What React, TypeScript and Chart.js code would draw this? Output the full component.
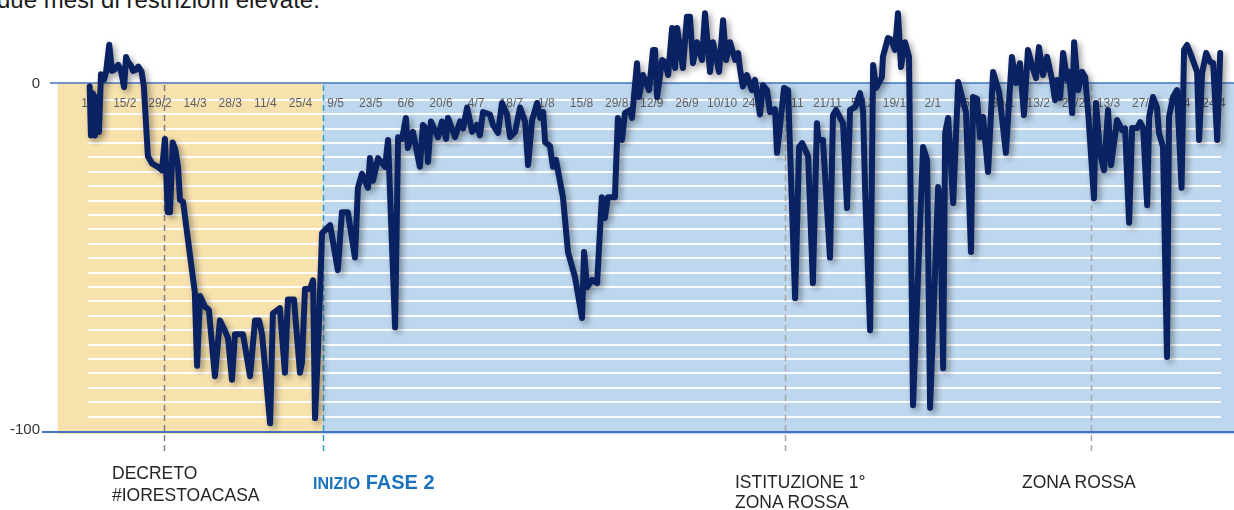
import React, { useEffect, useRef } from "react";
import { Chart, registerables } from "chart.js";

Chart.register(...registerables);

// x-axis tick labels, one every 14 days starting 1/2/2020
const tickLabels = [
  "1/2", "15/2", "29/2", "14/3", "28/3", "11/4", "25/4", "9/5", "23/5", "6/6", "20/6",
  "4/7", "18/7", "1/8", "15/8", "29/8", "12/9", "26/9", "10/10", "24/10", "7/11",
  "21/11", "5/12", "19/12", "2/1", "16/1", "30/1", "13/2", "27/2", "13/3", "27/3",
  "10/4", "24/4",
];
const tickStepDays = 14;
const yTickValues = [0, -100];

// day offset from 1/2/2020
const days = [
  0, 0.5, 1.3, 2.1, 2.9, 3.7, 4.5, 5.7, 6.5, 7.8, 8.9, 10.1, 11.4, 12.5, 13.7, 14.5, 15.3, 16.3,
  17.3, 18.1, 19.4, 20.7, 21.6, 23.2, 24.8, 27.2, 28.8, 30.0, 31.1, 32.0, 33.1, 34.1, 35.2, 36.0,
  37.2, 39.2, 41.9, 42.8, 44.0, 45.9, 47.5, 49.9, 51.9, 53.9, 55.1, 56.7, 57.9, 61.1, 63.9, 65.9,
  67.5, 68.7, 71.9, 73.0, 75.8, 77.8, 79.0, 81.4, 83.8, 84.6, 85.8, 87.8, 89.0, 89.8, 91.0, 92.6,
  95.8, 98.9, 100.5, 102.9, 105.7, 106.9, 108.5, 110.9, 111.7, 112.9, 114.9, 117.7, 118.9, 121.7,
  122.9, 124.5, 126.0, 126.8, 128.8, 131.6, 132.8, 134.0, 134.8, 136.0, 138.8, 140.4, 142.0, 142.8,
  145.6, 147.6, 148.8, 150.4, 152.4, 154.3, 155.5, 156.7, 159.5, 160.7, 162.7, 164.3, 166.3, 167.5,
  169.5, 171.5, 173.5, 174.7, 176.3, 178.3, 179.5, 180.7, 181.5, 183.4, 184.6, 185.8, 188.6, 190.6,
  193.4, 196.2, 197.0, 198.2, 200.2, 202.2, 204.1, 205.3, 206.5, 209.3, 210.5, 212.1, 213.3, 215.3,
  216.1, 218.1, 218.9, 220.5, 222.9, 224.5, 225.3, 226.1, 228.1, 229.3, 230.5, 232.1, 233.3, 234.1,
  236.4, 238.0, 239.2, 240.4, 242.0, 244.0, 245.2, 247.2, 248.4, 250.8, 252.4, 253.6, 255.2, 257.2,
  258.4, 259.1, 260.3, 261.9, 263.9, 265.1, 267.1, 268.3, 269.9, 271.1, 273.1, 273.9, 275.9, 276.7,
  278.3, 281.1, 282.7, 283.9, 286.3, 288.2, 289.8, 290.4, 292.2, 295.0, 296.2, 297.4, 300.2, 301.8,
  303.0, 305.0, 307.0, 308.2, 309.0, 311.0, 312.2, 313.4, 315.7, 316.1, 318.1, 319.3, 320.9, 322.1,
  323.3, 324.9, 326.5, 328.1, 332.1, 333.7, 334.9, 338.1, 338.9, 340.1, 340.9, 342.1, 344.1, 346.1,
  347.6, 349.2, 351.2, 352.0, 353.6, 354.8, 356.0, 358.0, 360.0, 362.4, 365.1, 367.5, 369.1, 370.7,
  372.3, 373.9, 375.5, 377.1, 378.3, 379.9, 381.5, 383.5, 384.7, 385.5, 386.7, 387.9, 389.5, 390.3,
  391.5, 392.3, 393.9, 395.5, 396.7, 397.9, 400.2, 401.0, 402.6, 404.2, 405.8, 407.0, 409.4, 411.4,
  412.6, 414.2, 415.4, 417.4, 418.6, 419.8, 421.4, 422.2, 423.7, 425.3, 426.1, 427.7, 429.3, 430.1,
  431.7, 433.3, 435.1, 436.1, 437.3, 439.3, 441.3, 442.1, 443.3, 444.9, 446.5, 447.7, 449.3, 450.5,
];

const values = [
  -1, -15, -3, -15, -4, -14, 2.5, 1, 3, 11, 3.5, 4, 5.2, 3.5, -1.2, 7.5, 6, 5.2,
  3.5, 3.7, 4.7, 3.2, -1, -21, -23, -24, -25, -16, -37, -37, -17, -19, -24, -33.5,
  -34, -45, -60, -81, -61, -64, -65, -84, -68, -71, -73, -85, -72, -72, -84, -68,
  -68, -72, -97.5, -66, -64.5, -83, -62, -62, -83, -80, -59, -59, -56.5, -96, -76, -43,
  -40.7, -53.6, -37, -37, -50, -30, -26, -30, -21.5, -28, -21.5, -24, -16.3, -70,
  -15.5, -16, -10, -18.6, -14, -24, -12, -13, -22.6, -11, -15.5, -11, -16, -10,
  -15.5, -11, -13, -7, -14, -12, -15, -8.3, -9, -12, -14.3, -5.7, -9, -15.5,
  -14, -7, -11, -23.5, -10.6, -5.7, -10, -8.3, -17, -18, -24, -22, -32.7, -48.4,
  -55.6, -67.3, -48.4, -58.5, -56.4, -57.3, -32.7, -38.7, -32.7, -32.7, -10, -16.3, -8.6, -7.7,
  -10, 5.7, -4, 2.3, -2, 9.5, 9.5, -4, 6.6, 6, 2.3, 15.8, 4.3, 15.8,
  4.3, 19, 19, 5.7, 11.7, 6.6, 20, 3.2, 11.7, 3.2, 18, 6.6, 11.7, 6.6,
  8.6, 4.3, -1, 2.3, -2, 0.9, -9, -0.6, -2, -8.3, -7.5, -20, -6.9, -1.4,
  -2, -61.6, -18.3, -17.2, -21, -57.3, -11.5, -16.3, -16.3, -50, -9.2, -7.7, -11.5, -35.8,
  -7.7, -6.9, -2.9, -8, -30.7, -70.8, 5.2, -1.4, 1.7, 7.5, 12.9, 12.5, 9.5, 20,
  4.6, 11.7, 7.5, -92.3, -18.3, -22, -93, -29.8, -35, -81.7, -14.3, -10, -34.4, 0.3,
  -4, -8.3, -48.4, -4, -4.5, -15.5, -9.7, -25.5, 3.2, -2.6, -20, 7.5, 0, 5.7,
  -9.2, 9.5, 5, 1.4, 10.3, 2.3, 7.5, 0.9, -4.9, 0.9, -4.3, 8.6, 0.9, 3.2,
  -8.6, 11.7, -2, 3.2, 1.7, -8.6, -33, -5.7, -20, -25, -7.7, -23.5, -10.6, -13.5,
  -13, -40, -12.9, -12.9, -11.2, -12.9, -35, -9.7, -4, -7, -14.3, -18.3, -78.5, -9.7,
  -4, -2, -30, 9.5, 10.9, 7.2, 3.2, -16.3, 2.9, 8.6, 6, 5.7, -16.3, 8.6,
];

// events (day offsets) and phase boundaries
const eventDays = [29.6, 92.9, 277.1, 399.2];
const eventColors = ["#7F7F7F", "#2E9CCB", "#A6A6A6", "#A6A6A6"];
const phase1StartDay = -12.8;
const phase2StartDay = 92.9;

const decorPlugin = {
  id: "decor",
  beforeDatasetsDraw(chart: any) {
    const { ctx, chartArea, scales } = chart;
    const x = scales.x;
    const y = scales.y;
    const top = y.getPixelForValue(0);
    const bot = y.getPixelForValue(-100.6);
    ctx.save();
    // backgrounds
    const xo = x.getPixelForValue(phase1StartDay);
    const xf = x.getPixelForValue(phase2StartDay);
    ctx.fillStyle = "#F7E1AD";
    ctx.fillRect(xo, top, xf - xo, bot - top);
    ctx.fillStyle = "#BDD7EE";
    ctx.fillRect(xf, top, chartArea.right - xf, bot - top);
    // white stripes
    ctx.strokeStyle = "rgba(255,255,255,0.95)";
    ctx.lineWidth = 2;
    const sx0 = x.getPixelForValue(-0.7);
    const sx1 = x.getPixelForValue(450.8);
    for (let k = 0; k < 23; k++) {
      const v = -95.6 + k * 4.127;
      const py = Math.round(y.getPixelForValue(v));
      ctx.beginPath();
      ctx.moveTo(sx0, py);
      ctx.lineTo(sx1, py);
      ctx.stroke();
    }
    // axis lines
    ctx.strokeStyle = "#4472C4";
    ctx.lineWidth = 1.5;
    ctx.beginPath();
    ctx.moveTo(chartArea.left + 8, top);
    ctx.lineTo(chartArea.right, top);
    ctx.stroke();
    ctx.lineWidth = 2;
    ctx.beginPath();
    ctx.moveTo(chartArea.left, y.getPixelForValue(-100));
    ctx.lineTo(chartArea.right, y.getPixelForValue(-100));
    ctx.stroke();
    // y labels
    ctx.fillStyle = "#333333";
    ctx.font = "15px 'Liberation Sans', Arial, sans-serif";
    ctx.textAlign = "right";
    ctx.textBaseline = "middle";
    yTickValues.forEach((v) => {
      ctx.fillText(String(v), chartArea.left - 2, y.getPixelForValue(v) - (v === 0 ? -1 : 2));
    });
    // date labels
    ctx.fillStyle = "#5f5f5f";
    ctx.font = "12px 'Liberation Sans', Arial, sans-serif";
    ctx.textAlign = "center";
    const ly = y.getPixelForValue(-6);
    tickLabels.forEach((lab, i) => {
      ctx.fillText(lab, x.getPixelForValue(i * tickStepDays), ly);
    });
    // event dashed lines
    ctx.lineWidth = 1.5;
    ctx.setLineDash([6, 4]);
    eventDays.forEach((d, i) => {
      const px = Math.round(x.getPixelForValue(d)) + 0.5;
      ctx.strokeStyle = eventColors[i];
      ctx.beginPath();
      ctx.moveTo(px, top + 2);
      ctx.lineTo(px, y.getPixelForValue(-105.7));
      ctx.stroke();
    });
    ctx.restore();
  },
  beforeDatasetDraw(chart: any) {
    const ctx = chart.ctx;
    ctx.save();
    ctx.shadowColor = "rgba(0,0,0,0.38)";
    ctx.shadowBlur = 6;
    ctx.shadowOffsetX = 3;
    ctx.shadowOffsetY = 3;
  },
  afterDatasetDraw(chart: any) {
    chart.ctx.restore();
  },
};

export default function App() {
  const ref = useRef<HTMLCanvasElement | null>(null);
  useEffect(() => {
    if (!ref.current) return;
    const chart = new Chart(ref.current, {
      type: "line",
      data: {
        datasets: [
          {
            data: days.map((d, i) => ({ x: d, y: values[i] })),
            borderColor: "#0A2262",
            borderWidth: 6,
            pointRadius: 0,
            tension: 0,
            borderJoinStyle: "round",
            borderCapStyle: "round",
            fill: false,
          },
        ],
      },
      options: {
        responsive: false,
        animation: false,
        devicePixelRatio: 1,
        events: [],
        layout: { padding: { left: 42, right: 0, top: 0, bottom: 56.3 } },
        plugins: { legend: { display: false }, tooltip: { enabled: false }, title: { display: false } },
        scales: {
          x: { type: "linear", min: -19, max: 456, display: false },
          y: { type: "linear", min: -106.2, max: 23.8, display: false },
        },
      },
      plugins: [decorPlugin],
    } as any);
    return () => chart.destroy();
  }, []);

  const labelStyle: React.CSSProperties = {
    position: "absolute",
    fontFamily: "'Liberation Sans', Arial, sans-serif",
    fontSize: "17.5px",
    color: "#262626",
    whiteSpace: "nowrap",
  };

  return (
    <div style={{ position: "absolute", left: 0, top: 0, width: 1234, height: 510, overflow: "hidden", background: "#fff" }}>
      <div
        style={{
          position: "absolute",
          left: -3,
          top: -12,
          fontFamily: "'Liberation Sans', Arial, sans-serif",
          fontSize: "24px",
          lineHeight: "24px",
          color: "#1a1a1a",
          whiteSpace: "nowrap",
        }}
      >
        due mesi di restrizioni elevate.
      </div>
      <canvas ref={ref} width={1234} height={510} style={{ position: "absolute", left: 0, top: 0, display: "block" }} />
      <div style={{ ...labelStyle, left: 112, top: 461.8, lineHeight: "22.3px" }}>
        DECRETO
        <br />
        #IORESTOACASA
      </div>
      <div
        style={{
          position: "absolute",
          left: 313,
          top: 472,
          fontFamily: "'Liberation Sans', Arial, sans-serif",
          fontWeight: "bold",
          fontSize: "20px",
          lineHeight: "20px",
          color: "#1B72BE",
          whiteSpace: "nowrap",
        }}
      >
        <span style={{ fontSize: "16px" }}>INIZIO</span> FASE 2
      </div>
      <div style={{ ...labelStyle, left: 735, top: 471.7, lineHeight: "20px" }}>
        ISTITUZIONE 1°
        <br />
        ZONA ROSSA
      </div>
      <div style={{ ...labelStyle, left: 1022, top: 471.7, lineHeight: "20px" }}>ZONA ROSSA</div>
    </div>
  );
}
